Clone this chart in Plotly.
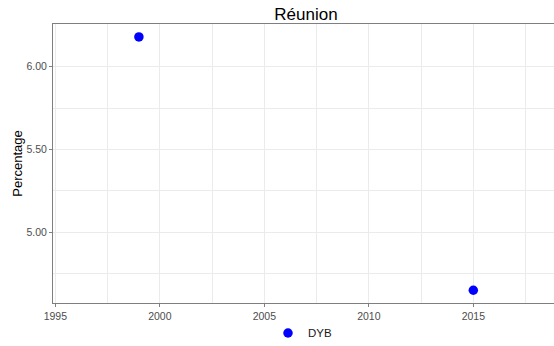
import plotly.graph_objects as go

years = [1999, 2015]
values = [6.18, 4.65]
series_name = "DYB"
x_ticks = [1995, 2000, 2005, 2010, 2015]
y_ticks = [5.0, 5.5, 6.0]
y_tick_labels = ["5.00", "5.50", "6.00"]

fig = go.Figure()
fig.add_trace(go.Scatter(x=years, y=values, mode="markers", name=series_name,
                         marker=dict(color="#0000ff", size=9.5)))

grid = "#ebebeb"
font_family = "Liberation Sans, Arial"
axis_common = dict(showline=True, linecolor="#7f7f7f", linewidth=1, mirror=True,
                   ticks="outside", ticklen=3, tickcolor="#7f7f7f",
                   gridcolor=grid, gridwidth=1, zeroline=False, automargin=False,
                   tickfont=dict(family=font_family, size=10.5, color="#4d4d4d"))

W, H = 554, 346
fig.update_layout(
    width=W, height=H,
    margin=dict(l=53, r=0, t=24, b=43, autoexpand=False),
    paper_bgcolor="white", plot_bgcolor="white",
    title=dict(text="Réunion", xref="container", x=306/W, xanchor="center",
               yref="container", y=1 - 14/H, yanchor="middle",
               font=dict(family=font_family, size=17, color="black")),
    xaxis=dict(range=[1994.89, 2018.86], tickvals=x_ticks,
               minor=dict(dtick=2.5, tick0=1997.5, showgrid=True, gridcolor=grid, ticks=""),
               **axis_common),
    yaxis=dict(range=[4.573, 6.258], tickvals=y_ticks, ticktext=y_tick_labels,
               minor=dict(tickvals=[4.75, 5.25, 5.75], showgrid=True, gridcolor=grid, ticks=""),
               title=dict(text="Percentage", font=dict(family=font_family, size=13, color="black"), standoff=0),
               **axis_common),
    showlegend=True,
    legend=dict(orientation="h", x=0.498, xanchor="center", y=-0.1075, yanchor="middle",
                itemwidth=30, bgcolor="rgba(0,0,0,0)",
                font=dict(family=font_family, size=11.5, color="#1a1a1a")),
)

fig.write_html("out.html", config={"displayModeBar": False},
               post_script="document.body.style.margin='0';document.body.style.overflow='hidden';")
